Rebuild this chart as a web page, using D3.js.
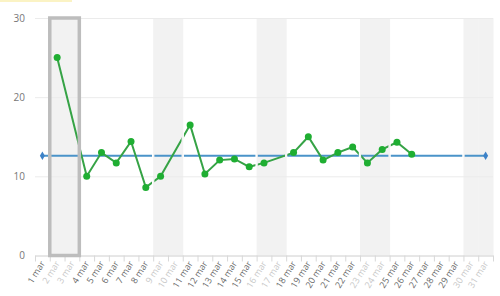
<!DOCTYPE html>
<html lang="en">
<head>
  <meta charset="UTF-8">
  <title>Mars</title>
  <script src="https://d3js.org/d3.v7.min.js"></script>
  <style>
    body { margin: 0; background: #fff; font-family: "Open Sans", sans-serif; }
    svg { display: block; }
  </style>
</head>
<body>
  <svg width="500" height="296"></svg>
  <script>
    // data
    const days = d3.range(1, 32).map(d => d + " mar");
    const weekends = [2, 3, 9, 10, 16, 17, 23, 24, 30, 31];
    const valueDays = [2, 4, 5, 6, 7, 8, 9, 11, 12, 13, 14, 15, 16, 18, 19, 20, 21, 22, 23, 24, 25, 26];
    const values = [25, 10, 13, 11.7, 14.4, 8.6, 10, 16.5, 10.3, 12.05, 12.2, 11.2, 11.7, 13, 15, 12.05, 13, 13.7, 11.7, 13.4, 14.3, 12.8];
    const average = 12.6;
    const yTicks = [0, 10, 20, 30];
    const selectedDays = [2, 3];

    const svg = d3.select("svg");
    const margin = {top: 18, right: 7, bottom: 40.5, left: 35};
    const width = 500, height = 296;

    const x = d3.scaleBand()
      .domain(days)
      .range([margin.left, width - margin.right]);
    const y = d3.scaleLinear()
      .domain([0, 30])
      .range([height - margin.bottom, margin.top]);
    const cx = d => x(d + " mar") + x.bandwidth() / 2;

    // mask cutting the lines at the band edges
    const edges = [];
    weekends.forEach((d, i) => {
      if (i % 2 === 0) edges.push(x(d + " mar"));
      else if (d < 31) edges.push(x(d + " mar") + x.bandwidth());
    });
    const mask = svg.append("defs").append("mask").attr("id", "cut")
      .attr("maskUnits", "userSpaceOnUse")
      .attr("x", 0).attr("y", 0).attr("width", width).attr("height", height);
    mask.append("rect").attr("width", width).attr("height", height).attr("fill", "#fff");
    mask.selectAll("rect.e")
      .data(edges)
      .join("rect")
      .attr("class", "e")
      .attr("x", d => d - 1.2)
      .attr("y", 0)
      .attr("width", 2.4)
      .attr("height", height)
      .attr("fill", "#000");

    // faint yellow strip at top
    svg.append("rect").attr("x", 0).attr("y", 0).attr("width", 72).attr("height", 2)
      .attr("fill", "#fbf3c4");

    // weekend bands
    svg.append("g").selectAll("rect")
      .data(weekends)
      .join("rect")
      .attr("x", d => x(d + " mar"))
      .attr("y", y(30))
      .attr("width", x.bandwidth() + 0.5)
      .attr("height", y(0) - y(30))
      .attr("fill", "#f2f2f2");

    // gridlines
    svg.append("g").selectAll("line")
      .data(yTicks)
      .join("line")
      .attr("x1", margin.left).attr("x2", width - margin.right)
      .attr("y1", d => y(d) + 0.5).attr("y2", d => y(d) + 0.5)
      .attr("stroke", "#ebebeb");

    // y labels
    svg.append("g").selectAll("text")
      .data(yTicks)
      .join("text")
      .attr("x", 25).attr("y", d => y(d) + 3.5)
      .attr("text-anchor", "end")
      .attr("font-size", 10)
      .attr("fill", "#777")
      .text(d => d);

    // x axis
    const xAxis = svg.append("g")
      .attr("transform", `translate(0,${y(0)})`)
      .call(d3.axisBottom(x).tickSize(0).tickFormat(""));
    xAxis.select(".domain").attr("stroke", "#d8d8d8");
    xAxis.append("g").selectAll("line")
      .data(d3.range(0, 32))
      .join("line")
      .attr("x1", i => margin.left + i * x.step() + 0.5)
      .attr("x2", i => margin.left + i * x.step() + 0.5)
      .attr("y1", 0).attr("y2", 6)
      .attr("stroke", "#d8d8d8");

    svg.append("g").selectAll("text")
      .data(days)
      .join("text")
      .attr("transform", d => `translate(${x(d) + x.bandwidth() / 2 + 3},${y(0) + 8}) rotate(-58)`)
      .attr("text-anchor", "end")
      .attr("font-size", 9)
      .attr("fill", (d, i) => weekends.includes(i + 1) ? "#c8c8c8" : "#6a6a6a")
      .text(d => d);

    // average line
    svg.append("line")
      .attr("x1", cx(1)).attr("x2", cx(31))
      .attr("y1", y(average)).attr("y2", y(average))
      .attr("stroke", "#4a93c9").attr("stroke-width", 2)
      .attr("mask", "url(#cut)");
    svg.append("g").selectAll("path")
      .data([1, 31])
      .join("path")
      .attr("transform", d => `translate(${cx(d)},${y(average)})`)
      .attr("d", d3.symbol(d3.symbolDiamond, 22))
      .attr("fill", "#3d82c8");

    // value line
    const pts = valueDays.map((d, i) => [cx(d), y(values[i])]);
    svg.append("path")
      .attr("d", d3.line()(pts))
      .attr("fill", "none")
      .attr("stroke", "#36a346")
      .attr("stroke-width", 2)
      .attr("mask", "url(#cut)");

    svg.append("g").selectAll("circle")
      .data(pts)
      .join("circle")
      .attr("cx", d => d[0]).attr("cy", d => d[1])
      .attr("r", 3.5)
      .attr("fill", "#1fae32");

    // selected range outline
    svg.append("rect")
      .attr("x", x(selectedDays[0] + " mar"))
      .attr("y", y(30))
      .attr("width", x.bandwidth() * selectedDays.length)
      .attr("height", y(0) - y(30))
      .attr("fill", "none")
      .attr("stroke", "#bdbdbd")
      .attr("stroke-width", 3.5);
  </script>
</body>
</html>
